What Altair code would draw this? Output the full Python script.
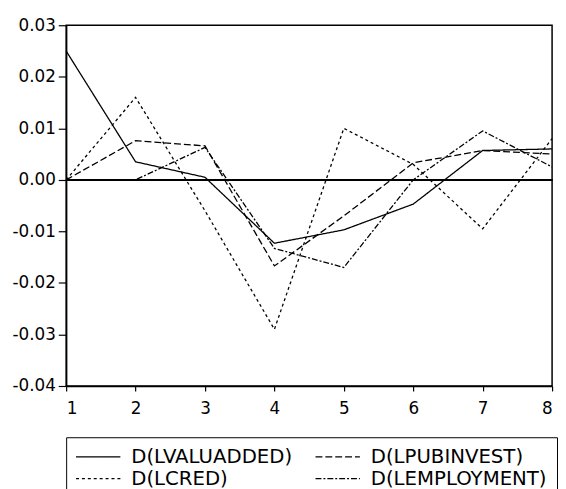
import altair as alt
import pandas as pd

periods = [1, 2, 3, 4, 5, 6, 7, 8]
series_names = ["D(LVALUADDED)", "D(LCRED)", "D(LPUBINVEST)", "D(LEMPLOYMENT)"]
lvaluadded = [0.025, 0.0035, 0.0005, -0.0123, -0.0097, -0.0047, 0.0057, 0.006]
lcred = [0.0, 0.016, -0.006, -0.029, 0.010, 0.003, -0.0095, 0.008]
lpubinvest = [0.0, 0.0076, 0.0066, -0.0167, -0.007, 0.0033, 0.0057, 0.005]
lemployment = [0.0, 0.0, 0.0063, -0.0133, -0.017, 0.0, 0.0095, 0.0025]
y_ticks = [-0.04, -0.03, -0.02, -0.01, 0.0, 0.01, 0.02, 0.03]
dashes = [[1, 0], [3, 3], [7, 3], [6, 2, 2, 2]]

rows = []
for name, vals in zip(series_names, [lvaluadded, lcred, lpubinvest, lemployment]):
    for p, v in zip(periods, vals):
        rows.append({"period": p, "value": v, "series": name})
df = pd.DataFrame(rows)

lines = alt.Chart(df).mark_line(color="black", strokeWidth=1.3).encode(
    x=alt.X("period:Q",
            scale=alt.Scale(domain=[1, 8], nice=False, zero=False),
            axis=alt.Axis(values=periods, format="d", title=None, tickSize=5,
                          labelPadding=10)),
    y=alt.Y("value:Q",
            scale=alt.Scale(domain=[-0.04, 0.03], nice=False, zero=False),
            axis=alt.Axis(values=y_ticks, title=None, tickSize=8, labelPadding=3,
                          labelExpr="(datum.value < -0.0001 ? '-' : '') + format(abs(datum.value), '.2f')")),
    strokeDash=alt.StrokeDash(
        "series:N",
        scale=alt.Scale(domain=series_names, range=dashes),
        legend=alt.Legend(orient="none", legendX=0, legendY=418, columns=2, title=None,
                          symbolType="M-2,0H7", symbolSize=100, symbolStrokeWidth=1.3,
                          symbolStrokeColor="black", labelFont="DejaVu Sans",
                          labelFontSize=20, labelColor="black", labelOffset=36,
                          columnPadding=20, rowPadding=2, padding=10,
                          strokeColor="black", fillColor="white", labelLimit=300)),
)

zero = alt.Chart(df).mark_rule(color="black", strokeWidth=1).encode(y=alt.datum(0))

chart = alt.layer(zero, lines).properties(
    width=493, height=366,
    autosize="none",
    padding={"left": 59, "top": 14, "right": 6, "bottom": 101},
).configure_view(stroke="black", strokeWidth=1.5).configure_axis(
    domainColor="black", domainWidth=1.5, tickColor="black", tickWidth=1.2,
    labelColor="black", labelFont="DejaVu Sans", labelFontSize=17, grid=False,
)

chart.save("out.html", embed_options={"renderer": "svg", "actions": False})
